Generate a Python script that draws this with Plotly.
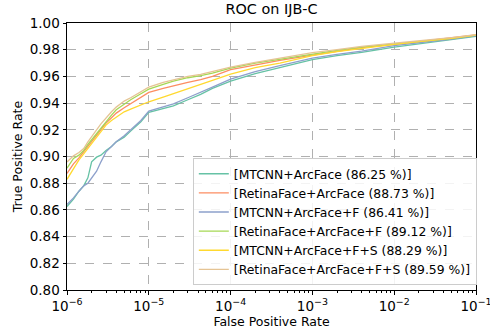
import plotly.graph_objects as go

fpr = [1e-6, 1.2e-6, 1.4e-6, 1.6e-6, 1.8e-6, 2e-6, 2.3e-6, 2.6e-6, 3e-6, 3.5e-6,
       4e-6, 5e-6, 6e-6, 8e-6, 1e-5, 1.5e-5, 2e-5, 3e-5, 4.3e-5, 6e-5,
       1e-4, 2e-4, 4e-4, 1e-3, 2e-3, 4e-3, 1e-2, 2e-2, 5e-2, 1e-1]

tpr_mtcnn = [0.8625, 0.868, 0.874, 0.878, 0.884, 0.896, 0.8995, 0.901, 0.9045, 0.9075,
             0.911, 0.9145, 0.919, 0.926, 0.933, 0.936, 0.938, 0.9425, 0.9465, 0.951,
             0.9565, 0.962, 0.9665, 0.9725, 0.9755, 0.978, 0.982, 0.9845, 0.9875, 0.990]
tpr_retina = [0.8873, 0.8945, 0.899, 0.9035, 0.908, 0.9115, 0.916, 0.9205, 0.925, 0.929,
              0.9325, 0.9365, 0.9395, 0.944, 0.948, 0.951, 0.953, 0.9555, 0.9575, 0.960,
              0.965, 0.9685, 0.972, 0.976, 0.979, 0.9815, 0.984, 0.986, 0.9885, 0.991]
tpr_mtcnn_f = [0.8641, 0.869, 0.874, 0.878, 0.880, 0.8835, 0.889, 0.896, 0.9035, 0.9075,
               0.911, 0.9155, 0.920, 0.927, 0.934, 0.937, 0.9395, 0.944, 0.948, 0.952,
               0.958, 0.9635, 0.968, 0.9737, 0.9765, 0.979, 0.983, 0.985, 0.988, 0.9905]
tpr_retina_f = [0.8912, 0.8985, 0.901, 0.9045, 0.909, 0.9125, 0.9175, 0.922, 0.9265, 0.931,
                0.935, 0.9395, 0.9425, 0.947, 0.9505, 0.954, 0.9565, 0.959, 0.9605, 0.9625,
                0.9662, 0.970, 0.973, 0.977, 0.9795, 0.982, 0.9845, 0.986, 0.9885, 0.991]
tpr_mtcnn_fs = [0.8829, 0.891, 0.8975, 0.902, 0.906, 0.9095, 0.914, 0.9185, 0.9235, 0.927,
                0.9295, 0.9335, 0.9355, 0.9385, 0.941, 0.9445, 0.947, 0.951, 0.954, 0.957,
                0.9617, 0.9665, 0.970, 0.9755, 0.9785, 0.981, 0.984, 0.986, 0.9885, 0.991]
tpr_retina_fs = [0.8959, 0.9005, 0.903, 0.906, 0.911, 0.9145, 0.920, 0.9245, 0.929, 0.9335,
                 0.937, 0.9415, 0.944, 0.9485, 0.952, 0.9555, 0.9575, 0.960, 0.9615, 0.9635,
                 0.967, 0.9705, 0.9735, 0.9778, 0.980, 0.9825, 0.985, 0.9865, 0.989, 0.9912]

names = ["[MTCNN+ArcFace (86.25 %)]", "[RetinaFace+ArcFace (88.73 %)]",
         "[MTCNN+ArcFace+F (86.41 %)]", "[RetinaFace+ArcFace+F (89.12 %)]",
         "[MTCNN+ArcFace+F+S (88.29 %)]", "[RetinaFace+ArcFace+F+S (89.59 %)]"]
series = [tpr_mtcnn, tpr_retina, tpr_mtcnn_f, tpr_retina_f, tpr_mtcnn_fs, tpr_retina_fs]
colors = ["#66c2a5", "#fc8d62", "#8da0cb", "#a6d854", "#ffd92f", "#e5c494"]

x_tickvals = [1e-6, 1e-5, 1e-4, 1e-3, 1e-2, 1e-1]
x_ticktext = ["10<sup>−6</sup>", "10<sup>−5</sup>", "10<sup>−4</sup>",
              "10<sup>−3</sup>", "10<sup>−2</sup>", "10<sup>−1</sup>"]
y_tickvals = [0.80, 0.82, 0.84, 0.86, 0.88, 0.90, 0.92, 0.94, 0.96, 0.98, 1.00]
y_ticktext = ["%.2f" % v for v in y_tickvals]

minor_vals = [m * 10 ** e for e in range(-6, -1) for m in range(2, 10)]

fig = go.Figure()
for name, s, c in zip(names, series, colors):
    fig.add_trace(go.Scatter(x=fpr, y=s, mode="lines", name=name,
                             line=dict(color=c, width=1.3)))

font = "DejaVu Sans"
fig.update_layout(
    width=490, height=334,
    margin=dict(l=67, r=14, t=23, b=44, autoexpand=False),
    paper_bgcolor="white", plot_bgcolor="white",
    font=dict(family=font, size=12, color="black"),
    title=dict(text="ROC on IJB-C", x=(67 + 476) / 2 / 490, xanchor="center",
               y=1 - 4 / 334, yanchor="top", font=dict(size=14.4, family=font)),
    showlegend=True,
    legend=dict(x=1.002, xanchor="right", y=0.018, yanchor="bottom",
                bgcolor="rgba(255,255,255,0.85)", bordercolor="#cccccc", borderwidth=1,
                font=dict(size=12.4, family=font), tracegroupgap=0),
)
fig.update_xaxes(
    type="log", range=[-6, -1], tickvals=x_tickvals, ticktext=x_ticktext,
    ticks="outside", ticklen=3.5, tickwidth=0.8, tickcolor="black",
    tickfont=dict(size=13.5, family=font), automargin=False, ticklabeloverflow="allow",
    showline=True, linecolor="black", linewidth=1, mirror=True,
    showgrid=True, gridcolor="#b0b0b0", griddash="dash", gridwidth=0.8,
    minor=dict(tickvals=minor_vals, ticks="outside", ticklen=2, tickwidth=0.6,
               tickcolor="black", showgrid=False),
    title=dict(text="False Positive Rate", font=dict(size=12.5, family=font), standoff=2),
    zeroline=False,
)
fig.update_yaxes(
    range=[0.80, 1.00], tickvals=y_tickvals, ticktext=y_ticktext,
    ticks="outside", ticklen=3.5, tickwidth=0.8, tickcolor="black",
    tickfont=dict(size=13.5, family=font), automargin=False,
    showline=True, linecolor="black", linewidth=1, mirror=True,
    showgrid=True, gridcolor="#b0b0b0", griddash="dash", gridwidth=0.8,
    title=dict(text="True Positive Rate", font=dict(size=12.5, family=font), standoff=4),
    zeroline=False,
)

fig.write_html("out.html", config={"displayModeBar": False},
               post_script="document.body.style.margin='0';document.body.style.overflow='hidden';")
